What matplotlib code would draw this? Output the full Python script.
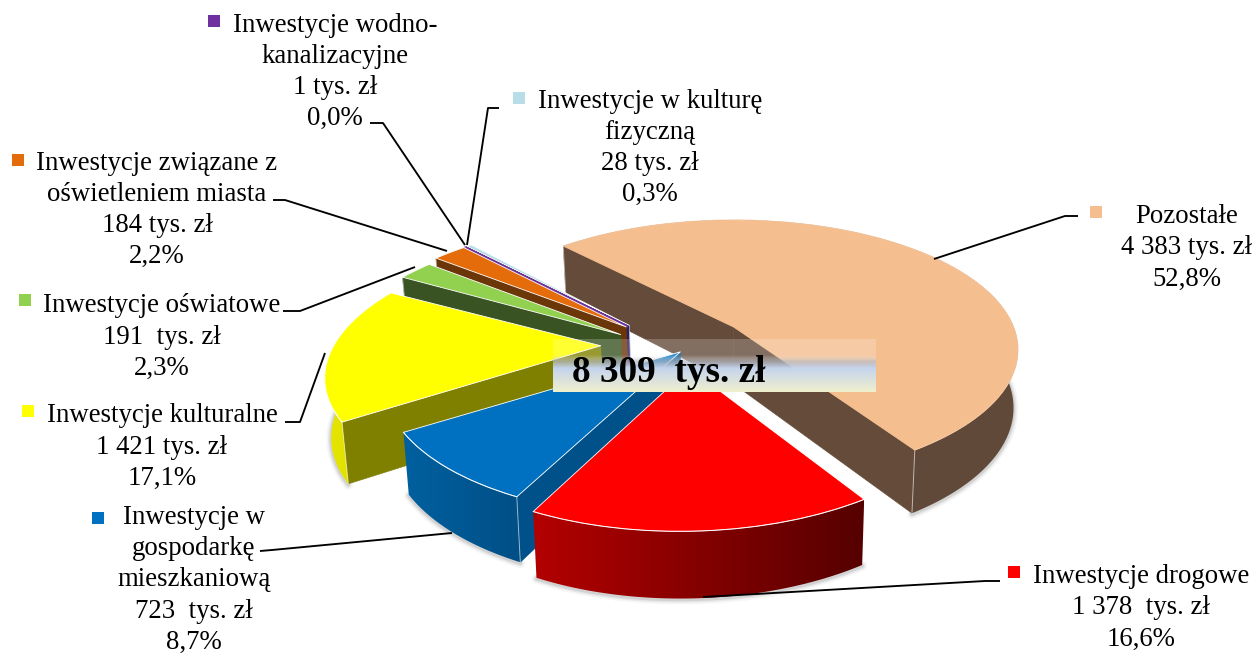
import numpy as np
import matplotlib
matplotlib.use("Agg")
import matplotlib.pyplot as plt
from matplotlib.transforms import Transform
from matplotlib.patches import Polygon

# ---------- data ----------
categories = ["Pozostałe", "Inwestycje drogowe", "Inwestycje w gospodarkę mieszkaniową",
              "Inwestycje kulturalne", "Inwestycje oświatowe",
              "Inwestycje związane z oświetleniem miasta",
              "Inwestycje wodno-kanalizacyjne", "Inwestycje w kulturę fizyczną"]
values = [4383, 1378, 723, 1421, 191, 184, 1, 28]
total_label = "8 309  tys. zł"
labels = ["Pozostałe\n4 383 tys. zł\n52,8%",
          "Inwestycje drogowe\n1 378  tys. zł\n16,6%",
          "Inwestycje w\ngospodarkę\nmieszkaniową\n723  tys. zł\n8,7%",
          "Inwestycje kulturalne\n1 421 tys. zł\n17,1%",
          "Inwestycje oświatowe\n191  tys. zł\n2,3%",
          "Inwestycje związane z\noświetleniem miasta\n184 tys. zł\n2,2%",
          "Inwestycje wodno-\nkanalizacyjne\n1 tys. zł\n0,0%",
          "Inwestycje w kulturę\nfizyczną\n28 tys. zł\n0,3%"]

# ---------- styles ----------
top_colors = ["#F5BE8E", "#FF0000", "#0070C0", "#FFFF00", "#92D050", "#E46C0A", "#7030A0", "#B7DEE8"]
face_colors = ["#654C3A", "#A00000", "#00508A", "#808000", "#3A5323", "#6B3608", "#3A1A60", "#8FB8C4"]
wall_left = ["#654C3A", "#B30000", "#00609F", "#E6E600", "#3A5323", "#6B3608", "#3A1A60", "#8FB8C4"]
wall_right = ["#61493A", "#560000", "#004F86", "#D8D800", "#3A5323", "#6B3608", "#3A1A60", "#8FB8C4"]
offsets = [(-.012, 0), (-.16, -.31), (-.195, -.19), (-.474, -.145), (-.41, -.06),
           (-.395, 0), (-.39, .005), (-.385, .012)]
radii = [1, .95, 1, .93, 1, 1, 1, 1]
turns = [0, 0, 0, 1.5, 0, 0, 0, 0]
draw_rank = [0, 7, 6, 5, 4, 3, 2, 1]
label_pos = [(1187, 248), (1141, 608), (194, 580), (162, 447), (162, 337),
             (157, 210), (335, 72), (650, 148)]
key_pos = [(1096, 212), (1014, 572), (98, 518), (28, 411), (25, 300),
           (18, 160), (214, 21), (519, 98)]
leaders = [[(1078, 216), (1065, 216), (934, 259)],
           [(1000, 581), (985, 581), (703, 597)],
           [(260, 551), (272, 550), (452, 533)],
           [(285, 422), (300, 422), (325, 353)],
           [(283, 311), (300, 311), (415, 267)],
           [(273, 200), (285, 200), (447, 251)],
           [(370, 123), (383, 123), (465, 245)],
           [(499, 108), (488, 108), (467, 245)]]

CX, CY, RX, RY, K = 737.0, 327.0, 280.0, 126.0, 0.177


def project(uv):
    uv = np.asarray(uv, float)
    d = 1 + K * uv[..., 1]
    return np.stack([CX + RX * uv[..., 0] / d, CY - RY * uv[..., 1] / d], axis=-1)


def lower(xy):
    xy = np.asarray(xy, float)
    dx, dy = xy[..., 0] - CX, xy[..., 1] - CY
    return np.stack([CX + 0.984 * dx, CY + 57 + 1.05 * dy], axis=-1)


class DiskTransform(Transform):
    input_dims = output_dims = 2
    is_affine = False
    has_inverse = False

    def transform_non_affine(self, values):
        return project(values)


plt.rcParams["font.family"] = ["Liberation Serif", "DejaVu Serif"]
fig = plt.figure(figsize=(12.55, 6.53), dpi=100)
ax = fig.add_axes([0, 0, 1, 1])

wedges, _ = ax.pie(values, startangle=133.5, counterclock=False, radius=1, colors=top_colors)
disk = DiskTransform() + ax.transData


def rgb(c):
    return np.array(matplotlib.colors.to_rgb(c))


for i, (w, off) in enumerate(zip(wedges, offsets)):
    z = 10 + 10 * draw_rank[i]
    off = np.array(off)
    w.set_theta1(w.theta1 + turns[i])
    w.set_theta2(w.theta2 + turns[i])
    w.set_radius(radii[i])
    th = np.radians(np.linspace(w.theta1, w.theta2, max(int(w.theta2 - w.theta1) * 2, 4)))
    rim = project(radii[i] * np.stack([np.cos(th), np.sin(th)], axis=1) + off)
    rim_low = lower(rim)
    apex = project(off)
    apex_low = lower(apex)

    # soft shadow under the bottom rim
    for lw, a in ((7, .07), (4.5, .12), (2.5, .2)):
        ax.plot(rim_low[:, 0], rim_low[:, 1] + 1, color="#808080", lw=lw, alpha=a,
                zorder=z, solid_capstyle="round")

    # cut faces turned towards the viewer
    mid = rim[len(rim) // 2]
    for end, low in ((rim[0], rim_low[0]), (rim[-1], rim_low[-1])):
        run = end[0] - apex[0]
        if abs(run) < 1e-6:
            continue
        if apex[1] + (mid[0] - apex[0]) * (end[1] - apex[1]) / run > mid[1] or i == 6:
            ax.fill([apex[0], end[0], low[0], apex_low[0]],
                    [apex[1], end[1], low[1], apex_low[1]],
                    facecolor=face_colors[i], edgecolor=face_colors[i],
                    lw=1.2 if i == 6 else .4, zorder=z + 1)
            ax.plot([low[0], end[0]], [low[1], end[1]], color="white", lw=.7, alpha=.55, zorder=z + 4)

    # outer wall with a left-to-right gradient, clipped to the wall outline
    xmin, xmax = min(rim[:, 0].min(), rim_low[:, 0].min()), max(rim[:, 0].max(), rim_low[:, 0].max())
    ymin, ymax = rim[:, 1].min(), rim_low[:, 1].max()
    ramp = np.linspace(0, 1, 128)[None, :, None]
    img = rgb(wall_left[i])[None, None, :] * (1 - ramp) + rgb(wall_right[i])[None, None, :] * ramp
    im = ax.imshow(img, extent=(xmin, xmax, ymax, ymin), aspect="auto", zorder=z + 2)
    outline = Polygon(np.vstack([rim, rim_low[::-1]]), closed=True, transform=ax.transData,
                      facecolor="none", edgecolor="none")
    ax.add_patch(outline)
    im.set_clip_path(outline)

    # top surface: the pie wedge itself, moved out and put in perspective
    w.set_center(tuple(off))
    w.set_transform(disk)
    w.set_zorder(z + 5)
    w.set_edgecolor(top_colors[i] if i in (0, 6) else "#FFFFFF")
    w.set_linewidth(1.0 if i == 6 else .6)
    ax.plot(rim[:, 0], rim[:, 1], color="white", lw=.8, alpha=.6 if i else .15, zorder=z + 6)

# labels
for txt, (x, y) in zip(labels, label_pos):
    ax.text(x, y, txt, ha="center", va="center", fontsize=19.3, linespacing=1.32,
            color="black", zorder=210)
for (x, y), c in zip(key_pos, top_colors):
    ax.scatter([x], [y], s=72, marker="s", color=c, linewidths=0, zorder=210)
for pts in leaders:
    xs, ys = zip(*pts)
    ax.plot(xs, ys, color="black", lw=1.35, zorder=150, solid_capstyle="butt")

# translucent gradient box with the total
box_y = np.array([0, 16, 22, 29, 53]) / 53
box_c = np.array([[1, 1, 1, .2], [1, 1, 1, .2], [.72, .74, .78, .7],
                  [.77, .83, .93, 1], [.94, .94, .80, 1]])
yy = np.linspace(0, 1, 106)
grad = np.stack([np.interp(yy, box_y, box_c[:, c]) for c in range(4)], axis=1)[:, None, :]
ax.imshow(grad, extent=(553, 876, 392, 339), aspect="auto", zorder=200, interpolation="bilinear")
ax.text(572, 372, total_label, ha="left", va="center", fontsize=26.8, fontweight="bold",
        color="black", zorder=210)

ax.set_aspect("auto")
ax.set_xlim(0, 1255)
ax.set_ylim(653, 0)
ax.set_axis_off()
fig.savefig("out.png", dpi=100, facecolor="white")
